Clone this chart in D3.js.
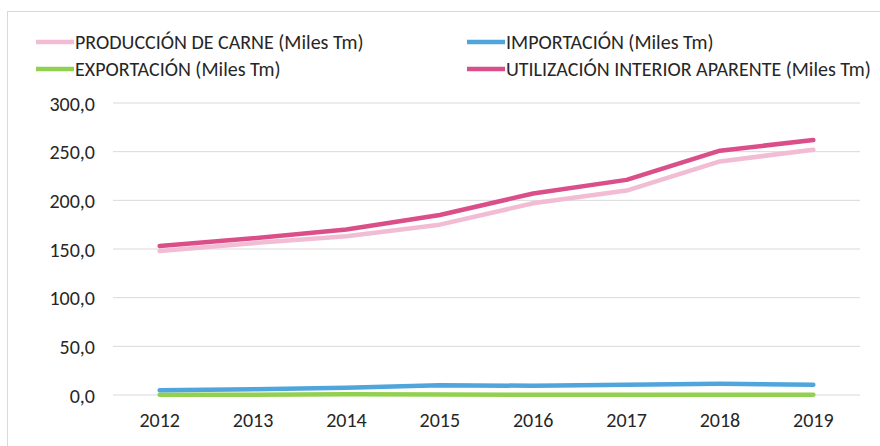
<!DOCTYPE html>
<html>
<head>
<meta charset="utf-8">
<script src="https://cdn.jsdelivr.net/npm/d3@7"></script>
<style>
  body { margin: 0; background: #fff; }
  text { font-family: Carlito, "Liberation Sans Narrow", "Open Sans", sans-serif; fill: #262626; }
</style>
</head>
<body>
<div id="chart"></div>
<script>
// chart values
var years = ["2012", "2013", "2014", "2015", "2016", "2017", "2018", "2019"];
var produccion = [148, 156, 163, 175, 197, 210, 240, 252];
var importacion = [5, 6, 7.5, 10, 9.5, 10.5, 11.5, 10.5];
var exportacion = [0.3, 0.3, 0.8, 0.4, 0.3, 0.3, 0.3, 0.3];
var utilizacion = [153, 161, 170, 185, 207, 221, 251, 262];
var yTicks = [0, 50, 100, 150, 200, 250, 300];

var seriesNames = [
  "PRODUCCIÓN DE CARNE (Miles Tm)",
  "IMPORTACIÓN (Miles Tm)",
  "EXPORTACIÓN (Miles Tm)",
  "UTILIZACIÓN INTERIOR APARENTE (Miles Tm)"
];
var seriesValues = [produccion, importacion, exportacion, utilizacion];
var colors = ["#f2bcd4", "#4fa5dc", "#92d050", "#da4f8a"];

var width = 880, height = 446;
var svg = d3.select("#chart").append("svg")
  .attr("width", width)
  .attr("height", height);

// outer chart border
svg.append("rect")
  .attr("x", 7.5).attr("y", 11.5)
  .attr("width", 890).attr("height", 450)
  .attr("fill", "none")
  .attr("stroke", "#d9d9d9");

var x = d3.scaleBand().domain(years).range([113, 860]);
var y = d3.scaleLinear().domain([0, 300]).range([395, 103]);

// gridlines
svg.append("g")
  .selectAll("line")
  .data(yTicks)
  .enter().append("line")
  .attr("x1", 113).attr("x2", 860)
  .attr("y1", function(d) { return y(d); })
  .attr("y2", function(d) { return y(d); })
  .attr("stroke", "#d9d9d9")
  .attr("stroke-width", 1);

// y labels
var yAxis = d3.axisLeft(y).tickValues(yTicks).tickSize(0).tickPadding(0)
  .tickFormat(function(d) { return d3.format(".1f")(d).replace(".", ","); });
var gy = svg.append("g").attr("transform", "translate(95,0)").call(yAxis);
gy.select(".domain").remove();
gy.selectAll("text").style("font-size", "20px").attr("dy", "0.35em");

// x labels
var xAxis = d3.axisBottom(x).tickSize(0).tickPadding(0);
var gx = svg.append("g").attr("transform", "translate(0,420)").call(xAxis);
gx.select(".domain").remove();
gx.selectAll("text").style("font-size", "20px").attr("dy", "0.35em");

var line = d3.line()
  .x(function(d, i) { return x(years[i]) + x.bandwidth() / 2; })
  .y(function(d) { return y(d); });

// draw lines, export/import first, then production, then utilization on top
var order = [2, 1, 0, 3];
order.forEach(function(k) {
  svg.append("path")
    .datum(seriesValues[k])
    .attr("d", line)
    .attr("fill", "none")
    .attr("stroke", colors[k])
    .attr("stroke-width", 4.5)
    .attr("stroke-linejoin", "round")
    .attr("stroke-linecap", "round");
});

// legend
var legendPos = [[36, 42], [467, 42], [36, 69], [467, 69]];
var legend = svg.append("g")
  .selectAll("g")
  .data(seriesNames)
  .enter().append("g")
  .attr("transform", function(d, i) { return "translate(" + legendPos[i][0] + "," + legendPos[i][1] + ")"; });

legend.append("line")
  .attr("x1", 0).attr("x2", 38)
  .attr("y1", 0).attr("y2", 0)
  .attr("stroke", function(d, i) { return colors[i]; })
  .attr("stroke-width", 4.5);

legend.append("text")
  .attr("x", 39)
  .attr("dy", "0.35em")
  .style("font-size", "20px")
  .text(function(d) { return d; });
</script>
</body>
</html>
